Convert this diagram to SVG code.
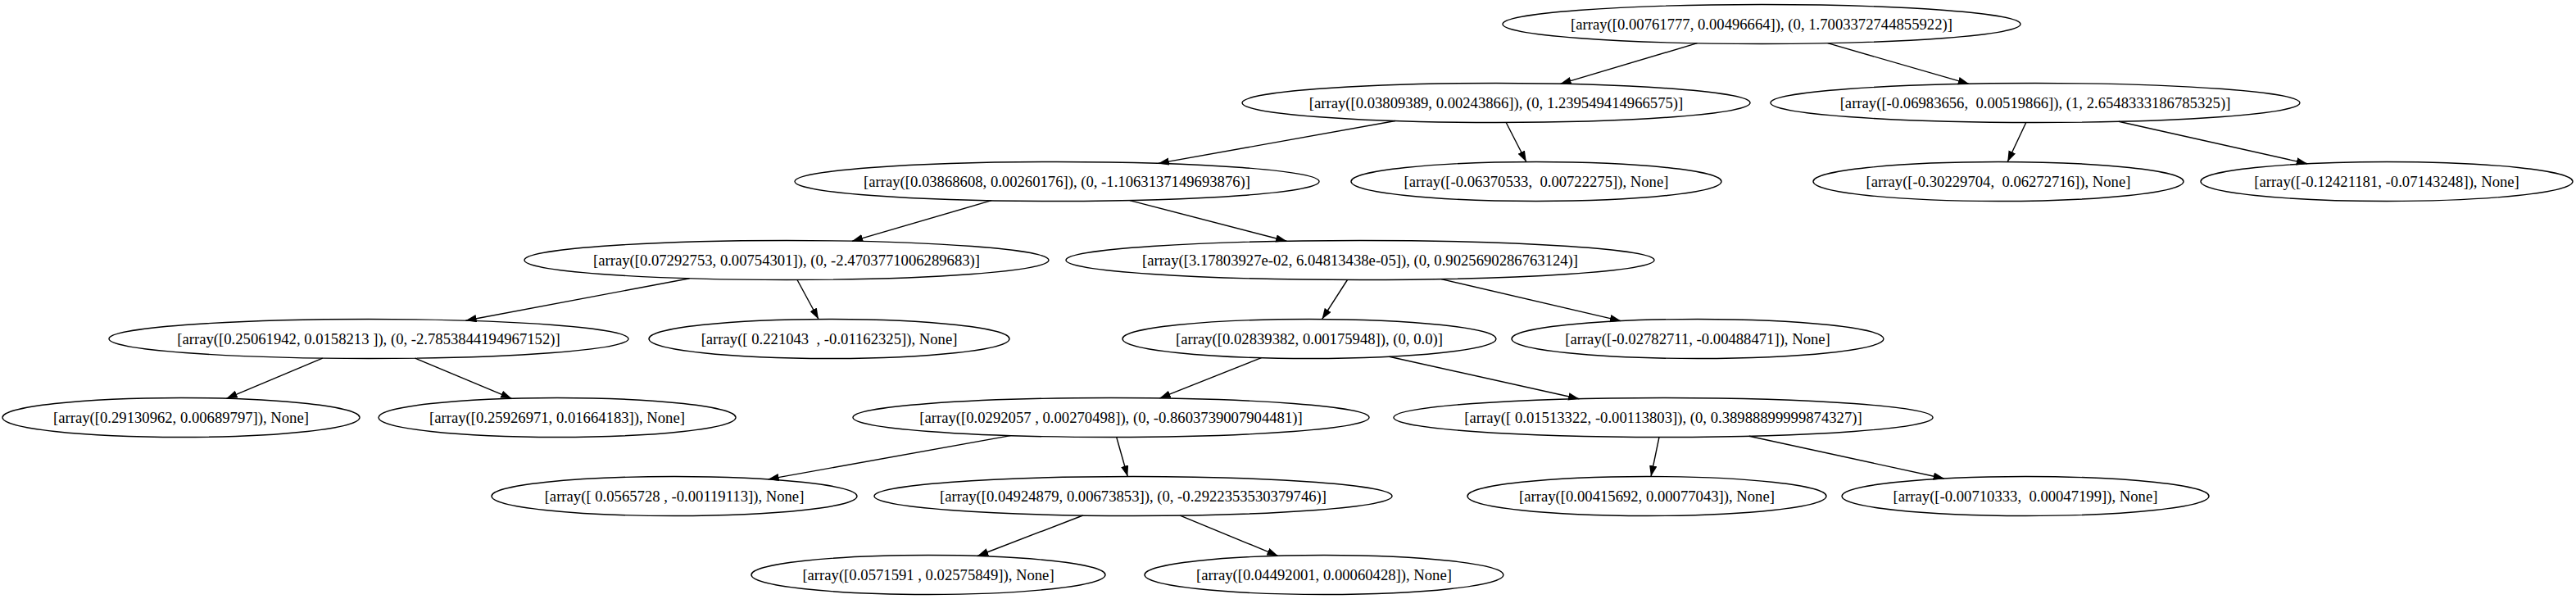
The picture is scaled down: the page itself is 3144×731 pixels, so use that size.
<svg xmlns="http://www.w3.org/2000/svg" width="3144" height="731" viewBox="0 0 3144 731">
<defs>
<style>
.n ellipse{fill:none;stroke:#000;stroke-width:1.4}
.n text{font-family:"Liberation Serif","Times New Roman",serif;font-size:18.67px;fill:#000;text-anchor:middle}
#edges line{stroke:#000;stroke-width:1.4;marker-end:url(#arr)}
</style>
<marker id="arr" markerUnits="userSpaceOnUse" markerWidth="14" markerHeight="10" refX="13.3" refY="4.7" orient="auto">
<path d="M0,0 L13.3,4.7 L0,9.4 Z" fill="#000"/>
</marker>
</defs>
<rect width="3144" height="731" fill="#fff"/>
<g id="edges">
<line x1="2071.5" y1="52.7" x2="1904.4" y2="102.3"/>
<line x1="2230.7" y1="52.7" x2="2403.1" y2="102.3"/>
<line x1="1703.0" y1="147.5" x2="1413.6" y2="199.4"/>
<line x1="1838.2" y1="149.5" x2="1862.8" y2="197.5"/>
<line x1="2472.8" y1="149.5" x2="2450.2" y2="197.5"/>
<line x1="2585.8" y1="148.3" x2="2816.0" y2="199.8"/>
<line x1="1210.1" y1="244.7" x2="1039.9" y2="294.3"/>
<line x1="1378.9" y1="244.6" x2="1570.4" y2="294.3"/>
<line x1="841.6" y1="339.8" x2="568.3" y2="391.2"/>
<line x1="973.0" y1="341.5" x2="999.0" y2="389.5"/>
<line x1="1644.5" y1="341.5" x2="1613.5" y2="389.6"/>
<line x1="1759.0" y1="340.6" x2="1978.2" y2="391.6"/>
<line x1="393.7" y1="437.1" x2="276.4" y2="486.3"/>
<line x1="506.6" y1="437.1" x2="624.4" y2="486.3"/>
<line x1="1539.5" y1="436.7" x2="1415.4" y2="485.9"/>
<line x1="1695.6" y1="435.2" x2="1927.4" y2="486.7"/>
<line x1="1233.3" y1="531.6" x2="937.4" y2="584.9"/>
<line x1="1362.7" y1="533.5" x2="1376.3" y2="581.5"/>
<line x1="2025" y1="533.5" x2="2015" y2="581.5"/>
<line x1="2134.8" y1="532.3" x2="2372.9" y2="584.0"/>
<line x1="1321.7" y1="629.0" x2="1193.0" y2="678.5"/>
<line x1="1440.3" y1="629.1" x2="1559.7" y2="678.3"/>
</g>
<g id="n0" class="n"><ellipse cx="2150" cy="29.5" rx="316" ry="24"/><text x="2150" y="35.5">[array([0.00761777, 0.00496664]), (0, 1.7003372744855922)]</text></g>
<g id="n1" class="n"><ellipse cx="1826" cy="125.5" rx="310" ry="24"/><text x="1826" y="131.5">[array([0.03809389, 0.00243866]), (0, 1.239549414966575)]</text></g>
<g id="n2" class="n"><ellipse cx="2484" cy="125.5" rx="323" ry="24"/><text x="2484" y="131.5" xml:space="preserve">[array([-0.06983656,  0.00519866]), (1, 2.6548333186785325)]</text></g>
<g id="n3" class="n"><ellipse cx="1875" cy="221.5" rx="226" ry="24"/><text x="1875" y="227.5" xml:space="preserve">[array([-0.06370533,  0.00722275]), None]</text></g>
<g id="n4" class="n"><ellipse cx="1290" cy="221.5" rx="320" ry="24"/><text x="1290" y="227.5">[array([0.03868608, 0.00260176]), (0, -1.1063137149693876)]</text></g>
<g id="n5" class="n"><ellipse cx="2439" cy="221.5" rx="226" ry="24"/><text x="2439" y="227.5" xml:space="preserve">[array([-0.30229704,  0.06272716]), None]</text></g>
<g id="n6" class="n"><ellipse cx="2913" cy="221.5" rx="227" ry="24"/><text x="2913" y="227.5">[array([-0.12421181, -0.07143248]), None]</text></g>
<g id="n7" class="n"><ellipse cx="960" cy="317.5" rx="320" ry="24"/><text x="960" y="323.5">[array([0.07292753, 0.00754301]), (0, -2.4703771006289683)]</text></g>
<g id="n8" class="n"><ellipse cx="1660" cy="317.5" rx="359" ry="24"/><text x="1660" y="323.5">[array([3.17803927e-02, 6.04813438e-05]), (0, 0.9025690286763124)]</text></g>
<g id="n9" class="n"><ellipse cx="450" cy="413.5" rx="317" ry="24"/><text x="450" y="419.5" xml:space="preserve">[array([0.25061942, 0.0158213 ]), (0, -2.7853844194967152)]</text></g>
<g id="n10" class="n"><ellipse cx="1012" cy="413.5" rx="220" ry="24"/><text x="1012" y="419.5" xml:space="preserve">[array([ 0.221043  , -0.01162325]), None]</text></g>
<g id="n11" class="n"><ellipse cx="1598" cy="413.5" rx="228" ry="24"/><text x="1598" y="419.5">[array([0.02839382, 0.00175948]), (0, 0.0)]</text></g>
<g id="n12" class="n"><ellipse cx="2072" cy="413.5" rx="227" ry="24"/><text x="2072" y="419.5">[array([-0.02782711, -0.00488471]), None]</text></g>
<g id="n13" class="n"><ellipse cx="221" cy="509.5" rx="218" ry="24"/><text x="221" y="515.5">[array([0.29130962, 0.00689797]), None]</text></g>
<g id="n14" class="n"><ellipse cx="680" cy="509.5" rx="218" ry="24"/><text x="680" y="515.5">[array([0.25926971, 0.01664183]), None]</text></g>
<g id="n15" class="n"><ellipse cx="1356" cy="509.5" rx="315" ry="24"/><text x="1356" y="515.5" xml:space="preserve">[array([0.0292057 , 0.00270498]), (0, -0.8603739007904481)]</text></g>
<g id="n16" class="n"><ellipse cx="2030" cy="509.5" rx="329" ry="24"/><text x="2030" y="515.5" xml:space="preserve">[array([ 0.01513322, -0.00113803]), (0, 0.38988899999874327)]</text></g>
<g id="n17" class="n"><ellipse cx="823" cy="605.5" rx="223" ry="24"/><text x="823" y="611.5" xml:space="preserve">[array([ 0.0565728 , -0.00119113]), None]</text></g>
<g id="n18" class="n"><ellipse cx="1383" cy="605.5" rx="316" ry="24"/><text x="1383" y="611.5">[array([0.04924879, 0.00673853]), (0, -0.2922353530379746)]</text></g>
<g id="n19" class="n"><ellipse cx="2010" cy="605.5" rx="219" ry="24"/><text x="2010" y="611.5">[array([0.00415692, 0.00077043]), None]</text></g>
<g id="n20" class="n"><ellipse cx="2472" cy="605.5" rx="224" ry="24"/><text x="2472" y="611.5" xml:space="preserve">[array([-0.00710333,  0.00047199]), None]</text></g>
<g id="n21" class="n"><ellipse cx="1133" cy="701.5" rx="216" ry="24"/><text x="1133" y="707.5" xml:space="preserve">[array([0.0571591 , 0.02575849]), None]</text></g>
<g id="n22" class="n"><ellipse cx="1616" cy="701.5" rx="219" ry="24"/><text x="1616" y="707.5">[array([0.04492001, 0.00060428]), None]</text></g>
</svg>
